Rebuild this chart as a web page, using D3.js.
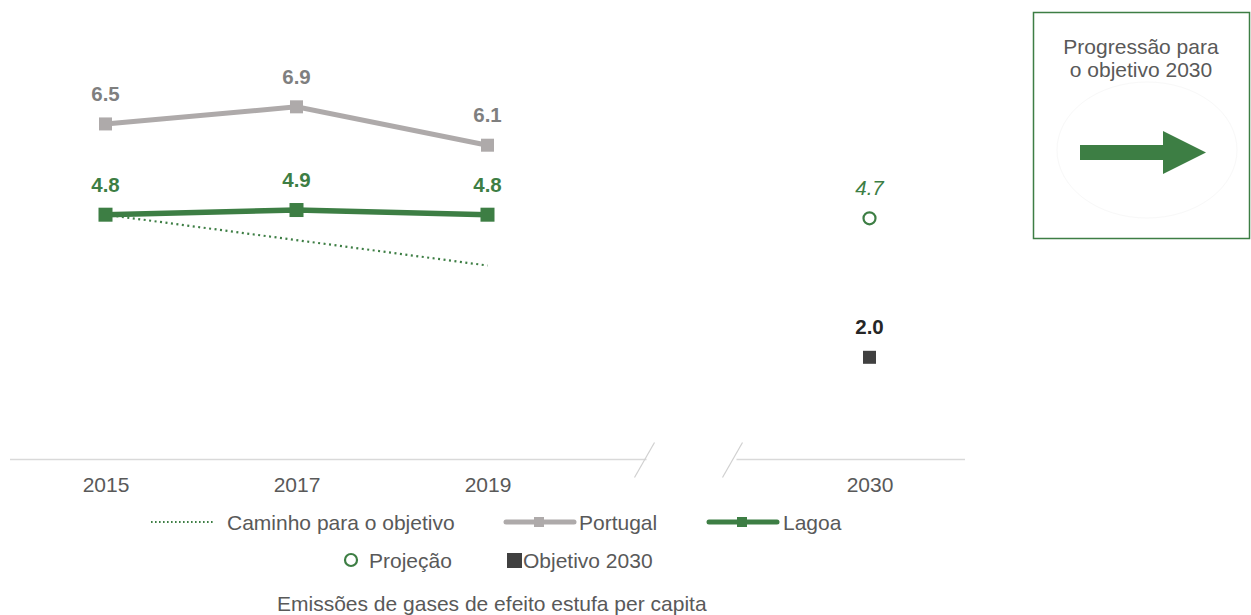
<!DOCTYPE html>
<html><head><meta charset="utf-8">
<script src="https://cdn.jsdelivr.net/npm/d3@7"></script>
<style>
html,body{margin:0;padding:0;background:#fff;}
svg{display:block;font-family:"Liberation Sans",Arial,sans-serif;}
</style></head>
<body>
<svg id="chart" width="1251" height="615"></svg>
<script>
// ---- data ----
const categories = ["2015", "2017", "2019", "gap", "2030"];
const histYears = ["2015", "2017", "2019"];
const tickLabels = ["2015", "2017", "2019", "2030"];
const portugalValues = [6.49, 6.82, 6.08];
const portugalLabels = ["6.5", "6.9", "6.1"];
const lagoaValues = [4.74, 4.83, 4.74];
const lagoaLabels = ["4.8", "4.9", "4.8"];
const pathValues = [4.74, 4.25, 3.76];
const projectionYear = "2030";
const projectionValue = 4.67;
const projectionLabel = "4.7";
const objectiveValue = 1.99;
const objectiveLabel = "2.0";
const legendRow1 = ["Caminho para o objetivo", "Portugal", "Lagoa"];
const legendRow2 = ["Projeção", "Objetivo 2030"];
const chartTitle = "Emissões de gases de efeito estufa per capita";
const boxTitle = ["Progressão para", "o objetivo 2030"];

// ---- styles ----
const GREEN = "#3d7e44", GREYLINE = "#aeaaaa", GREYLAB = "#7f7f7f", TXT = "#595959", DARK = "#404040";

const svg = d3.select("#chart");
const x = d3.scalePoint().domain(categories).range([10, 965]).padding(0.5);
const y = d3.scaleLinear().domain([0, 8.88]).range([460.5, 0]);

// axis baseline with break
const gx = x("gap") + 10;
const axisY = 459.5;
svg.append("line").attr("x1", 10).attr("x2", gx - 42).attr("y1", axisY).attr("y2", axisY)
  .attr("stroke", "#d9d9d9").attr("stroke-width", 1.5);
svg.append("line").attr("x1", gx + 48).attr("x2", 965).attr("y1", axisY).attr("y2", axisY)
  .attr("stroke", "#d9d9d9").attr("stroke-width", 1.5);
[gx - 44, gx + 44].forEach(cx => {
  svg.append("line").attr("x1", cx - 10).attr("y1", axisY + 18).attr("x2", cx + 10).attr("y2", axisY - 17)
    .attr("stroke", "#d0d0d0").attr("stroke-width", 1.2);
});

const axis = d3.axisBottom(x).tickValues(tickLabels).tickSize(0).tickPadding(0);
const ga = svg.append("g").attr("transform", `translate(0,${axisY})`).call(axis);
ga.select(".domain").remove();
ga.selectAll("text").attr("font-size", 21).attr("fill", TXT).attr("dy", null).attr("y", 32.5)
  .attr("font-family", "Liberation Sans, Arial, sans-serif");

// path to objective (dotted)
svg.append("path")
  .attr("d", d3.line().x((d, i) => x(histYears[i])).y(d => y(d))(pathValues))
  .attr("fill", "none").attr("stroke", GREEN).attr("stroke-width", 2.2).attr("stroke-dasharray", "2,3.5");

// Portugal
svg.append("path")
  .attr("d", d3.line().x((d, i) => x(histYears[i])).y(d => y(d))(portugalValues))
  .attr("fill", "none").attr("stroke", GREYLINE).attr("stroke-width", 5);
svg.selectAll(".pm").data(portugalValues).join("rect")
  .attr("x", (d, i) => x(histYears[i]) - 6.5).attr("y", d => y(d) - 6.5)
  .attr("width", 13).attr("height", 13).attr("fill", GREYLINE);
svg.selectAll(".pl").data(portugalValues).join("text")
  .attr("x", (d, i) => x(histYears[i])).attr("y", d => y(d) - 23)
  .attr("text-anchor", "middle").attr("font-size", 20.5).attr("font-weight", "bold").attr("fill", GREYLAB)
  .text((d, i) => portugalLabels[i]);

// Lagoa
svg.append("path")
  .attr("d", d3.line().x((d, i) => x(histYears[i])).y(d => y(d))(lagoaValues))
  .attr("fill", "none").attr("stroke", GREEN).attr("stroke-width", 5.5);
svg.selectAll(".lm").data(lagoaValues).join("rect")
  .attr("x", (d, i) => x(histYears[i]) - 7).attr("y", d => y(d) - 7)
  .attr("width", 14).attr("height", 14).attr("fill", GREEN);
svg.selectAll(".ll").data(lagoaValues).join("text")
  .attr("x", (d, i) => x(histYears[i])).attr("y", d => y(d) - 23)
  .attr("text-anchor", "middle").attr("font-size", 20.5).attr("font-weight", "bold").attr("fill", GREEN)
  .text((d, i) => lagoaLabels[i]);

// projection
svg.append("circle").attr("cx", x(projectionYear)).attr("cy", y(projectionValue)).attr("r", 6)
  .attr("fill", "#fff").attr("stroke", GREEN).attr("stroke-width", 2.2);
svg.append("text").attr("x", x(projectionYear)).attr("y", y(projectionValue) - 23)
  .attr("text-anchor", "middle").attr("font-size", 20.5).attr("font-style", "italic").attr("fill", GREEN)
  .text(projectionLabel);

// objective
svg.append("rect").attr("x", x(projectionYear) - 6.5).attr("y", y(objectiveValue) - 6.5)
  .attr("width", 13).attr("height", 13).attr("fill", DARK);
svg.append("text").attr("x", x(projectionYear)).attr("y", y(objectiveValue) - 23)
  .attr("text-anchor", "middle").attr("font-size", 20.5).attr("font-weight", "bold").attr("fill", "#262626")
  .text(objectiveLabel);

// legend
const lg = svg.append("g").attr("font-size", 21).attr("fill", TXT);
const r1 = 522, r2 = 560;
lg.append("line").attr("x1", 151).attr("x2", 214).attr("y1", r1).attr("y2", r1)
  .attr("stroke", GREEN).attr("stroke-width", 2).attr("stroke-dasharray", "1.6,2.4");
lg.append("text").attr("x", 227).attr("y", 530).text(legendRow1[0]);
lg.append("line").attr("x1", 506).attr("x2", 574).attr("y1", r1).attr("y2", r1)
  .attr("stroke", GREYLINE).attr("stroke-width", 5).attr("stroke-linecap", "round");
lg.append("rect").attr("x", 534).attr("y", r1 - 5).attr("width", 10).attr("height", 10).attr("fill", GREYLINE);
lg.append("text").attr("x", 579).attr("y", 530).text(legendRow1[1]);
lg.append("line").attr("x1", 709).attr("x2", 777).attr("y1", r1).attr("y2", r1)
  .attr("stroke", GREEN).attr("stroke-width", 5).attr("stroke-linecap", "round");
lg.append("rect").attr("x", 737).attr("y", r1 - 5).attr("width", 10).attr("height", 10).attr("fill", GREEN);
lg.append("text").attr("x", 783).attr("y", 530).text(legendRow1[2]);
lg.append("circle").attr("cx", 351).attr("cy", r2).attr("r", 6)
  .attr("fill", "#fff").attr("stroke", GREEN).attr("stroke-width", 2.2);
lg.append("text").attr("x", 369).attr("y", 568).text(legendRow2[0]);
lg.append("rect").attr("x", 507).attr("y", 553).attr("width", 15).attr("height", 15).attr("fill", DARK);
lg.append("text").attr("x", 523).attr("y", 568).text(legendRow2[1]);

svg.append("text").attr("x", 277).attr("y", 611)
  .attr("font-size", 21).attr("fill", TXT).text(chartTitle);

// box
const box = svg.append("g");
box.append("rect").attr("x", 1033.5).attr("y", 12.5).attr("width", 216).attr("height", 226)
  .attr("fill", "#fff").attr("stroke", GREEN).attr("stroke-width", 1.5);
box.append("ellipse").attr("cx", 1147).attr("cy", 150).attr("rx", 90).attr("ry", 68)
  .attr("fill", "none").attr("stroke", "#f8f8f8").attr("stroke-width", 1);
box.selectAll(".bt").data(boxTitle).join("text")
  .attr("x", 1141).attr("y", (d, i) => 54 + i * 23).attr("text-anchor", "middle")
  .attr("font-size", 21).attr("fill", TXT).text(d => d);
box.append("path")
  .attr("d", "M1080,145 L1163,145 L1163,131 L1206,152.5 L1163,174 L1163,160 L1080,160 Z")
  .attr("fill", GREEN);
</script>
</body></html>
